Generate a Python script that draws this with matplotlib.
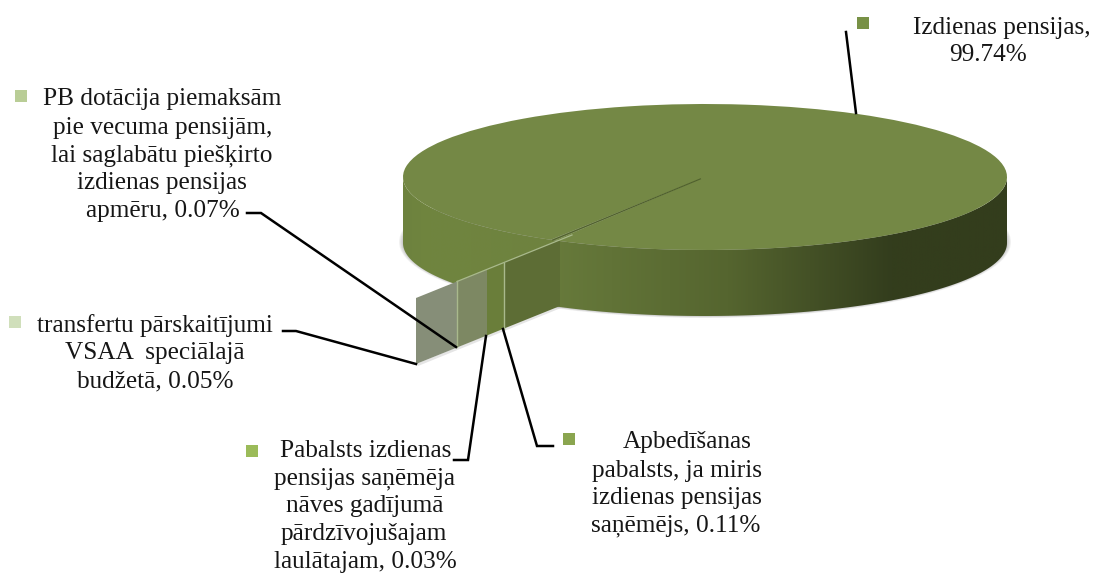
import numpy as np
import matplotlib
matplotlib.use("Agg")
import matplotlib.pyplot as plt
from matplotlib.colors import LinearSegmentedColormap
from matplotlib.patches import Ellipse, Polygon
from matplotlib.transforms import Affine2D

plt.rcParams['font.family'] = ['Liberation Serif', 'DejaVu Serif']

# data
slice_names = ["Izdienas pensijas", "transfertu", "PB dotacija", "Pabalsts", "Apbedisanas"]
slice_values = [99.74, 0.05, 0.07, 0.03, 0.11]

label_izdienas = ["Izdienas pensijas,", "99.74%"]
label_transfertu = ["transfertu pārskaitījumi", "VSAA  speciālajā", "budžetā, 0.05%"]
label_pb = ["PB dotācija piemaksām", "pie vecuma pensijām,", "lai saglabātu piešķirto",
            "izdienas pensijas", "apmēru, 0.07%"]
label_pabalsts = ["Pabalsts izdienas", "pensijas saņēmēja", "nāves gadījumā",
                  "pārdzīvojušajam", "laulātajam, 0.03%"]
label_apbed = ["Apbedīšanas", "pabalsts, ja miris", "izdienas pensijas", "saņēmējs, 0.11%"]

# look of the pie, in pixels of the picture
CX, CY, RX, RY, DEPTH = 705, 177, 302, 73, 66
START_ANGLE = 240.2
TOP_COLOR = "#748845"
SLIT_COLOR = "#4f602c"
CUT_START = (560, 240)
CUT_END = (416, 298)
panel_widths = [41, 30, 17, 56]
panel_colors = ["#868e78", "#7d8863", "#6a7e3a", "#5d6d35"]
seam_color = "#a9b98c"


def arc(a0, a1, dy=0, n=200):
    t = np.radians(np.linspace(a0, a1, n))
    return np.column_stack([CX + RX * np.cos(t), CY - RY * np.sin(t) + dy])


def draw_wall(ax, a0, a1, stops):
    pts = np.vstack([arc(a0, a1), arc(a1, a0, DEPTH)])
    x0, x1 = pts[:, 0].min(), pts[:, 0].max()
    s0, s1 = stops[0][0], stops[-1][0]
    cmap = LinearSegmentedColormap.from_list("wall", [((x - s0) / (s1 - s0), c) for x, c in stops])
    xs = np.linspace(x0, x1, 512)
    im = ax.imshow(np.clip((xs - s0) / (s1 - s0), 0, 1)[None, :], cmap=cmap, vmin=0, vmax=1,
                   aspect="auto", zorder=2,
                   extent=(x0, x1, pts[:, 1].max(), pts[:, 1].min()))
    poly = Polygon(pts, closed=True, transform=ax.transData, fc="none", ec="none")
    ax.add_patch(poly)
    im.set_clip_path(poly)


def draw_label(ax, lines, xs, ys):
    for s, x, y in zip(lines, xs, ys):
        ax.text(x, y, s, ha="center", va="center", fontsize=18.2, color="#161616", zorder=6)


fig = plt.figure(figsize=(10.99, 5.74), dpi=100)
ax = fig.add_axes([0, 0, 1, 1])

# soft shadow under the pie
for k in range(6):
    ax.add_patch(Ellipse((CX, CY + DEPTH - 1), 2 * (RX + 4 - k), 2 * (RY + 3 - k * 0.5),
                         fc="#555555", ec="none", alpha=0.08, zorder=1))
sx = [CUT_START[0] + 1, CUT_END[0] + 2, CUT_END[0], CUT_START[0] - 3]
sy = [CUT_START[1] + DEPTH + 2, CUT_END[1] + DEPTH + 2, CUT_END[1] + DEPTH, CUT_START[1] + DEPTH]
ax.add_patch(Polygon(np.column_stack([sx, sy]), fc="#aaaaaa", ec="none", alpha=0.3, zorder=1))

# outer walls left and right of the cut
draw_wall(ax, 180, 240, [(403, "#6d823e"), (430, "#70853f"), (553, "#6e823f")])
draw_wall(ax, 240, 360, [(553, "#677a3b"), (728, "#55652f"), (892, "#333d1d"), (1007, "#333d1c")])

# flat panels of the small slices
edges = np.cumsum([0] + panel_widths) / sum(panel_widths)
ex = CUT_END[0] + edges * (CUT_START[0] - CUT_END[0])
ey = CUT_END[1] + edges * (CUT_START[1] - CUT_END[1])
for i, c in enumerate(panel_colors):
    pts = [(ex[i], ey[i]), (ex[i + 1], ey[i + 1]),
           (ex[i + 1], ey[i + 1] + DEPTH), (ex[i], ey[i] + DEPTH)]
    ax.add_patch(Polygon(pts, closed=True, fc=c, ec="none", zorder=3))
for i in [1, 3]:
    ax.plot([ex[i], ex[i]], [ey[i], ey[i] + DEPTH], color=seam_color, lw=1, zorder=3.5)

# top face, the small slices only show as a hairline
wedges, _ = ax.pie(slice_values, startangle=START_ANGLE, radius=RX, center=(0, 0),
                   colors=[TOP_COLOR] * 5, wedgeprops={"linewidth": 0})
squash = Affine2D().scale(1, -RY / RX).translate(CX, CY)
for w in wedges:
    w.set_transform(squash + ax.transData)
    w.set_zorder(4)
slit = START_ANGLE - sum(slice_values[1:]) * 3.6 / 2
rim = arc(slit, slit, n=1)[0]
ax.plot([CX + 0.03 * (rim[0] - CX), rim[0]], [CY + 0.03 * (rim[1] - CY), rim[1]],
        color=SLIT_COLOR, lw=0.8, zorder=4.4)
ax.plot([ex[1], CUT_START[0] + 12], [ey[1], CUT_START[1] - 5], color=seam_color, lw=0.9, zorder=4.5)

# leader lines
leaders = [
    ([846, 856], [32, 113]),
    ([247, 261, 456], [213, 213, 347]),
    ([283, 296, 416], [331, 331, 364]),
    ([454, 468, 486], [460, 460, 336]),
    ([553, 537, 503], [446, 446, 329]),
]
for lx, ly in leaders:
    ax.plot(lx, ly, color="black", lw=1.8, zorder=5, solid_joinstyle="miter")

# legend squares and labels
marker_x = [863, 569, 252, 21, 15]
marker_y = [23, 439, 451, 96, 322]
marker_c = ["#789146", "#8aa54f", "#9bbb59", "#b9cd96", "#d0dfbb"]
ax.scatter(marker_x, marker_y, s=72, marker="s", c=marker_c, linewidths=0, zorder=6)

draw_label(ax, label_izdienas, [1002, 988], [28, 55])
draw_label(ax, label_pb, [162, 163, 162, 162, 163], [99, 128, 156, 183, 211])
draw_label(ax, label_transfertu, [155, 155, 155], [326, 353, 381])
draw_label(ax, label_pabalsts, [366, 365, 365, 364, 365], [451, 479, 506, 534, 562])
draw_label(ax, label_apbed, [687, 677, 677, 676], [442, 471, 498, 526])

ax.set_aspect("auto")
ax.set_xlim(0, 1099)
ax.set_ylim(574, 0)
ax.axis("off")

fig.savefig("out.png", dpi=100, facecolor="white")
plt.close(fig)
